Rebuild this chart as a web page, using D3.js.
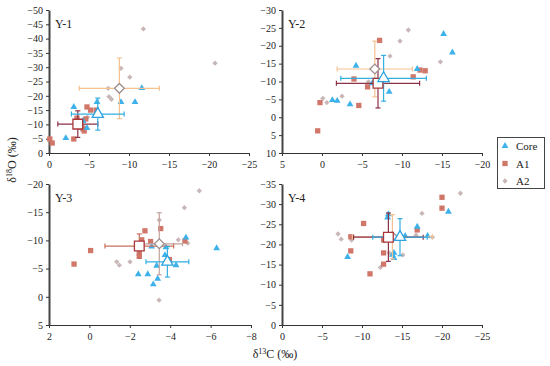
<!DOCTYPE html>
<html lang="en">
<head>
<meta charset="UTF-8">
<title>Isotope scatter</title>
<script src="https://d3js.org/d3.v7.min.js"></script>
<style>
  body { margin: 0; background: #fff; }
  svg text { font-family: "Liberation Serif", "Times New Roman", serif; fill: #222; }
</style>
</head>
<body>
<svg width="550" height="366"></svg>
<script>
// panels
const panelNames = ["Y-1", "Y-2", "Y-3", "Y-4"];
const xDomains = [[0, -25], [5, -20], [2, -8], [0, -25]];
const yDomains = [[0, -50], [10, -30], [5, -20], [0, -35]];
const xTickVals = [[0, -5, -10, -15, -20, -25], [5, 0, -5, -10, -15, -20], [2, 0, -2, -4, -6, -8], [0, -5, -10, -15, -20, -25]];
const yTickVals = [d3.range(0, -51, -5), d3.range(10, -31, -5), d3.range(5, -21, -5), d3.range(0, -36, -5)];
const seriesNames = ["Core", "A1", "A2"];

// points [d13C, d18O]
const y1Core = [[-3.1,-16.1],[-2.1,-5.2],[-4.25,-11.2],[-4.75,-8.7],[-6.0,-17.8],[-9.0,-17.8],[-10.75,-17.8],[-11.6,-22.7]];
const y1A1 = [[-0.1,-4.9],[-0.4,-3.5],[-3.1,-4.9],[-3.5,-12.2],[-4.0,-9.1],[-4.25,-8.4],[-4.4,-7.7],[-4.75,-16.1],[-5.2,-15.0],[-5.9,-15.0],[-4.6,-11.9]];
const y1A2 = [[-11.8,-43.4],[-20.75,-31.4],[-9.0,-29.6],[-10.1,-26.5],[-7.4,-22.6],[-7.5,-19.7],[-7.8,-18.8],[-4.8,-12.5],[-4.4,-9.1]];

const y2Core = [[-4.25,-14.4],[-1.3,-4.8],[-1.9,-4.6],[-3.5,-3.6],[-6.3,-9.5],[-8.4,-7.1],[-11.9,-13.5],[-15.2,-23.3],[-16.3,-18.1]];
const y2A1 = [[0.25,-4.1],[0.54,3.8],[-4.0,-10.7],[-5.7,-8.5],[-4.6,-3.3],[-7.2,-21.5],[-11.4,-11.3],[-12.25,-13.2],[-12.9,-13.0]];
const y2A2 = [[-0.1,-5.3],[-0.6,-4.1],[-2.5,-5.9],[-5.8,-9.9],[-8.5,-17.1],[-9.75,-21.3],[-10.8,-24.4],[-14.8,-15.5]];

const y3Core = [[-3.08,-8.9],[-2.89,-4.0],[-3.33,-5.5],[-3.74,-7.4],[-3.79,-8.8],[-4.29,-5.6],[-2.42,-4.0],[-3.38,-3.2],[-3.16,-2.2],[-4.78,-10.5],[-6.3,-8.6]];
const y3A1 = [[0.76,-5.8],[-0.06,-8.2],[-2.42,-9.0],[-2.59,-10.1],[-2.75,-11.7],[-3.03,-9.8],[-2.47,-7.7],[-2.47,-7.2],[-3.53,-12.1],[-3.96,-6.6],[-4.73,-9.9]];
const y3A2 = [[-5.44,-18.8],[-4.7,-15.8],[-3.46,-13.6],[-4.4,-10.1],[-4.87,-9.5],[-1.35,-6.2],[-1.48,-5.6],[-2.01,-6.2],[-3.45,0.6]];

const y4Core = [[-8.2,-16.9],[-13.2,-26.7],[-13.3,-27.5],[-13.8,-17.4],[-14.0,-17.9],[-14.0,-16.6],[-15.4,-22.1],[-16.9,-24.4],[-18.2,-22.1],[-20.8,-28.1]];
const y4A1 = [[-10.2,-25.2],[-8.6,-21.9],[-8.6,-18.4],[-12.7,-21.1],[-12.7,-17.9],[-12.7,-15.1],[-11.0,-12.7],[-16.9,-23.6],[-20.0,-31.7],[-20.0,-29.0]];
const y4A2 = [[-7.0,-22.6],[-7.4,-21.3],[-8.7,-21.1],[-12.3,-14.3],[-15.1,-17.4],[-17.5,-27.7],[-22.3,-32.7],[-16.75,-22.3],[-18.8,-21.8],[-13.4,-17.9]];

// means [x, y, xerr, yerr] for Core, A1, A2
const y1Means = [[-6.1,-13.6,3.3,5.6],[-3.6,-10.1,2.5,4.65],[-8.8,-22.6,5.0,10.6]];
const y2Means = [[-7.7,-10.9,5.35,6.4],[-7.0,-9.5,5.2,6.9],[-6.6,-13.5,4.7,7.8]];
const y3Means = [[-3.86,-6.2,1.06,2.7],[-2.47,-9.0,1.7,2.15],[-3.46,-9.4,1.15,5.5]];
const y4Means = [[-14.75,-21.8,3.4,4.6],[-13.3,-21.8,4.35,6.0],[-13.8,-21.9,5.0,5.5]];

const panelPoints = [[y1Core, y1A1, y1A2], [y2Core, y2A1, y2A2], [y3Core, y3A1, y3A2], [y4Core, y4A1, y4A2]];
const panelMeans = [y1Means, y2Means, y3Means, y4Means];

const pointColors = ["#3db2ea", "#d0776a", "#c9b7b8"];
const meanStroke = ["#2ba3de", "#a8373a", "#9e8d8e"];
const errColors = [
  ["#35aee2", "#8b3148", "#f6c190"],
  ["#35aee2", "#8b3148", "#f6c190"],
  ["#35aee2", "#c8705f", "#c4a29c"],
  ["#35aee2", "#8b3148", "#f6c190"]
];

const boxes = [
  {x0: 49, x1: 249, y0: 10, y1: 153},
  {x0: 282, x1: 482, y0: 10, y1: 153},
  {x0: 49, x1: 251, y0: 184, y1: 325},
  {x0: 282, x1: 482, y0: 184, y1: 325}
];

const svg = d3.select("svg");
const symTypes = [d3.symbolTriangle, d3.symbolSquare, d3.symbolSquare];
const symRot = [0, 0, 45];
const symSizes = [20, 28, 14];
const meanSizes = [55, 95, 48];

function drawSymbol(g, s, size, x, y, fill, stroke, sw) {
  g.append("path")
    .attr("d", d3.symbol().type(symTypes[s]).size(size)())
    .attr("transform", `translate(${x},${y}) rotate(${symRot[s]})`)
    .attr("fill", fill)
    .attr("stroke", stroke)
    .attr("stroke-width", sw);
}

function styleAxis(a) {
  a.attr("font-family", "Liberation Serif, Times New Roman, serif").attr("font-size", 10);
  a.selectAll(".tick line").attr("stroke", "#333");
  a.selectAll(".tick text").attr("fill", "#222");
}

panelNames.forEach((name, i) => {
  const b = boxes[i];
  const x = d3.scaleLinear().domain(xDomains[i]).range([b.x0, b.x1]);
  const y = d3.scaleLinear().domain(yDomains[i]).range([b.y1, b.y0]);
  const g = svg.append("g");

  g.append("g")
    .attr("transform", `translate(0,${b.y1})`)
    .call(d3.axisBottom(x).tickValues(xTickVals[i]).tickSize(3).tickSizeOuter(0))
    .call(styleAxis)
    .call(a => a.select(".domain").attr("stroke", "#333").attr("stroke-width", 1.2))
    .call(a => a.selectAll(".tick text").attr("dy", "0.9em"));

  g.append("g")
    .attr("transform", `translate(${b.x0},0)`)
    .call(d3.axisLeft(y).tickValues(yTickVals[i]).tickSize(3).tickSizeOuter(0))
    .call(styleAxis)
    .call(a => a.select(".domain").attr("stroke-width", 2).attr("stroke", "#444"))
    .call(a => a.selectAll(".tick text").attr("x", -6));

  g.append("text")
    .attr("x", b.x0 + 6)
    .attr("y", b.y0 + 18)
    .attr("font-size", 12)
    .text(name);

  // scatter points: A2 underneath, then A1, then Core
  [2, 1, 0].forEach(s => {
    panelPoints[i][s].forEach(p => {
      drawSymbol(g, s, symSizes[s], x(p[0]), y(p[1]), pointColors[s], "none", 0);
    });
  });

  // error bars
  [2, 1, 0].forEach(s => {
    const m = panelMeans[i][s];
    const c = errColors[i][s];
    const cx = x(m[0]), cy = y(m[1]);
    const xl = x(m[0] + m[2]), xr = x(m[0] - m[2]);
    const yt = y(m[1] - m[3]), yb = y(m[1] + m[3]);
    const eg = g.append("g").attr("stroke", c).attr("stroke-width", 1.2);
    eg.append("line").attr("x1", xl).attr("x2", xr).attr("y1", cy).attr("y2", cy);
    eg.append("line").attr("x1", cx).attr("x2", cx).attr("y1", yt).attr("y2", yb);
    [xl, xr].forEach(v => eg.append("line").attr("x1", v).attr("x2", v).attr("y1", cy - 2.5).attr("y2", cy + 2.5));
    [yt, yb].forEach(v => eg.append("line").attr("x1", cx - 2.5).attr("x2", cx + 2.5).attr("y1", v).attr("y2", v));
  });

  // mean markers
  [2, 1, 0].forEach(s => {
    const m = panelMeans[i][s];
    drawSymbol(g, s, meanSizes[s], x(m[0]), y(m[1]), "#fff", meanStroke[s], 1.3);
  });
});

// axis titles
const xt = svg.append("text")
  .attr("x", 275).attr("y", 358)
  .attr("text-anchor", "middle")
  .attr("font-size", 12);
xt.append("tspan").text("δ");
xt.append("tspan").attr("font-size", 8).attr("dy", -4).text("13");
xt.append("tspan").attr("dy", 4).text("C (‰)");

const yt = svg.append("text")
  .attr("transform", "translate(16,160) rotate(-90)")
  .attr("text-anchor", "middle")
  .attr("font-size", 12);
yt.append("tspan").text("δ");
yt.append("tspan").attr("font-size", 8).attr("dy", -4).text("18");
yt.append("tspan").attr("dy", 4).text("O (‰)");

// legend
const lg = svg.append("g");
lg.append("rect")
  .attr("x", 497.5).attr("y", 137.5)
  .attr("width", 47).attr("height", 51)
  .attr("fill", "#fff").attr("stroke", "#444").attr("stroke-width", 1);
seriesNames.forEach((n, s) => {
  const ly = 146 + s * 17.5;
  drawSymbol(lg, s, symSizes[s], 505, ly, pointColors[s], "none", 0);
  lg.append("text")
    .attr("x", 516).attr("y", ly + 4)
    .attr("font-size", 11)
    .text(n);
});
</script>
</body>
</html>
